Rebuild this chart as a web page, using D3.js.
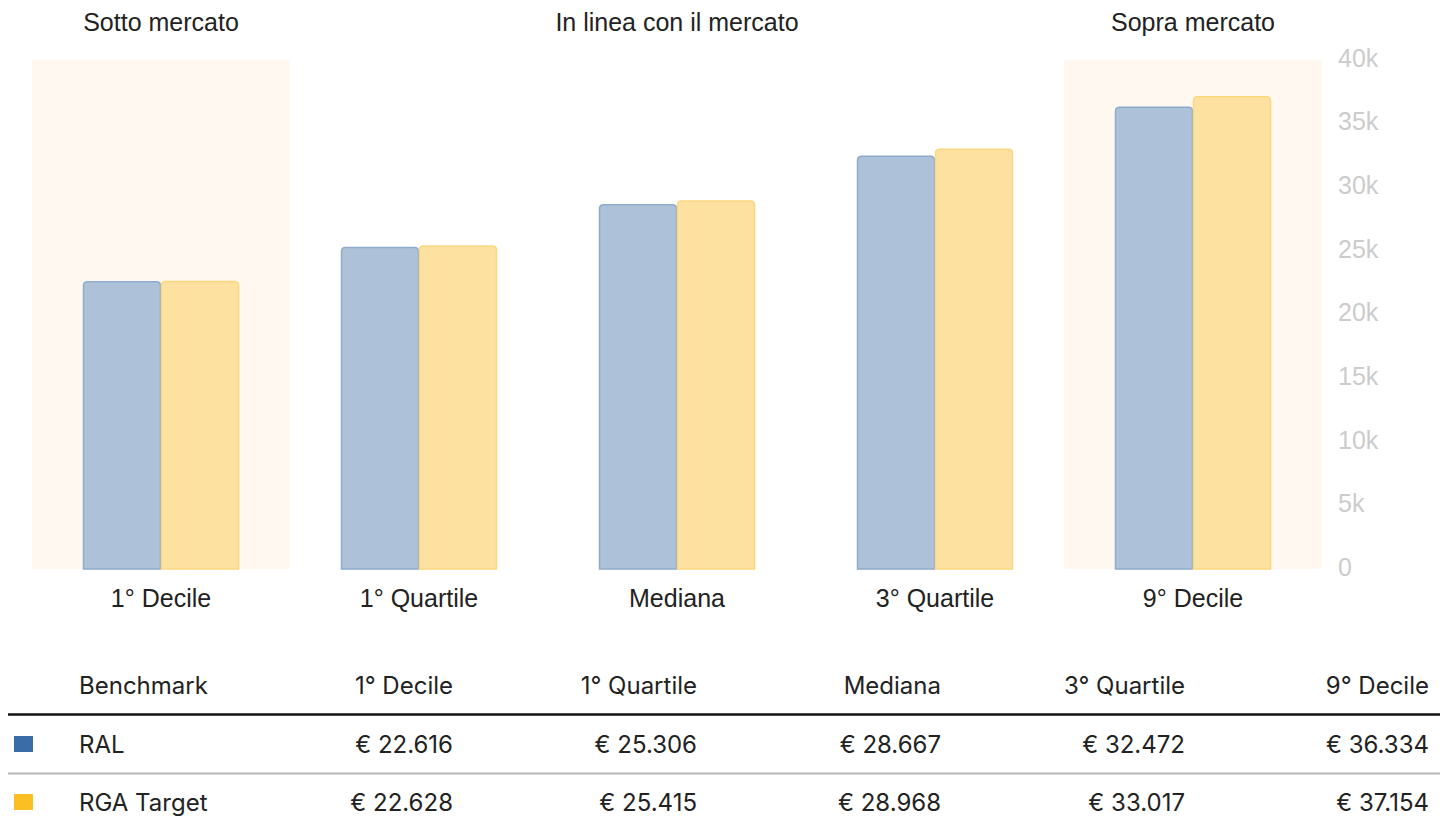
<!DOCTYPE html>
<html><head><meta charset="utf-8">
<script src="https://cdn.jsdelivr.net/npm/d3@7/dist/d3.min.js"></script>
<style>
html,body{margin:0;padding:0;background:#fff;}
svg{display:block;}
</style></head>
<body>
<svg id="chart" width="1448" height="819"></svg>
<script>
const categories = ["1° Decile", "1° Quartile", "Mediana", "3° Quartile", "9° Decile"];
const seriesNames = ["RAL", "RGA Target"];
const ralValues = [22616, 25306, 28667, 32472, 36334];
const rgaValues = [22628, 25415, 28968, 33017, 37154];
const yTicks = [0, 5000, 10000, 15000, 20000, 25000, 30000, 35000, 40000];
const zoneLabels = [
  {label: "Sotto mercato", cat: "1° Decile", shaded: true},
  {label: "In linea con il mercato", cat: "Mediana", shaded: false},
  {label: "Sopra mercato", cat: "9° Decile", shaded: true}
];
const shadedCats = ["1° Decile", "9° Decile"];
const tableHeader = ["Benchmark", "1° Decile", "1° Quartile", "Mediana", "3° Quartile", "9° Decile"];

const fmtEuro = v => "€ " + d3.format(",")(v).replace(/,/g, ".");

const svg = d3.select("#chart");
const plot = {left: 32, right: 1322, top: 60, bottom: 569};

const x = d3.scaleBand().domain(categories).range([plot.left, plot.right]).paddingInner(0).paddingOuter(0);
const xInner = d3.scaleBand().domain(seriesNames).range([51, x.bandwidth() - 51]);
const y = d3.scaleLinear().domain([0, 40000]).range([plot.bottom, plot.top]);

const barFill = {"RAL": "#adc2d9", "RGA Target": "#fde1a0"};
const barStroke = {"RAL": "#8fabcb", "RGA Target": "#fbd77f"};
const legendColor = {"RAL": "#3a6ca8", "RGA Target": "#fbbf24"};
const chartFont = "'Liberation Sans', Arial, sans-serif";

// shaded zones
svg.selectAll("rect.zone").data(shadedCats).join("rect")
  .attr("class", "zone")
  .attr("x", d => x(d)).attr("y", y(40000))
  .attr("width", x.bandwidth()).attr("height", y(0) - y(40000))
  .attr("fill", "#fff8f0");

// zone labels
svg.selectAll("text.zoneLabel").data(zoneLabels).join("text")
  .attr("class", "zoneLabel")
  .attr("x", d => x(d.cat) + x.bandwidth() / 2)
  .attr("y", 31)
  .attr("text-anchor", "middle")
  .attr("font-family", chartFont)
  .attr("font-size", 25)
  .attr("fill", "#222")
  .text(d => d.label);

// bars
const data = [];
categories.forEach((c, i) => {
  data.push({cat: c, s: "RAL", v: ralValues[i]});
  data.push({cat: c, s: "RGA Target", v: rgaValues[i]});
});
function topRounded(x0, y0, w, h, r) {
  return `M${x0},${y0 + h}V${y0 + r}Q${x0},${y0} ${x0 + r},${y0}H${x0 + w - r}Q${x0 + w},${y0} ${x0 + w},${y0 + r}V${y0 + h}Z`;
}
svg.selectAll("path.bar").data(data).join("path")
  .attr("class", "bar")
  .attr("d", d => {
    const bx = x(d.cat) + xInner(d.s) + 0.5;
    const by = y(d.v) + 0.5;
    return topRounded(bx, by, xInner.bandwidth() - 1, y(0) - y(d.v) - 0.5, 4);
  })
  .attr("fill", d => barFill[d.s])
  .attr("stroke", d => barStroke[d.s])
  .attr("stroke-width", 1.5);

// y axis labels (right)
svg.selectAll("text.ytick").data(yTicks).join("text")
  .attr("class", "ytick")
  .attr("x", 1338)
  .attr("y", d => y(d) - 2)
  .attr("dy", "0.35em")
  .attr("font-family", chartFont)
  .attr("font-size", 25)
  .attr("fill", "#cccccc")
  .text(d => d === 0 ? "0" : (d / 1000) + "k");

// x axis labels
svg.selectAll("text.xtick").data(categories).join("text")
  .attr("class", "xtick")
  .attr("x", d => x(d) + x.bandwidth() / 2)
  .attr("y", 607)
  .attr("text-anchor", "middle")
  .attr("font-family", chartFont)
  .attr("font-size", 25)
  .attr("fill", "#222")
  .text(d => d);

// table
const colRight = d3.scaleLinear().domain([1, 5]).range([453, 1429]);
const tableFont = "Inter, 'Noto Sans', sans-serif";
const headerY = 694, rowY = [753, 811];

const tbl = svg.append("g");
tbl.selectAll("text.th").data(tableHeader).join("text")
  .attr("class", "th")
  .attr("x", (d, i) => i === 0 ? 79 : colRight(i))
  .attr("y", headerY)
  .attr("text-anchor", (d, i) => i === 0 ? "start" : "end")
  .attr("font-family", tableFont)
  .attr("font-size", 24)
  .attr("fill", "#222")
  .text(d => d);

tbl.append("line").attr("x1", 8).attr("x2", 1440).attr("y1", 714.5).attr("y2", 714.5)
  .attr("stroke", "#111").attr("stroke-width", 2.5);
tbl.append("line").attr("x1", 8).attr("x2", 1440).attr("y1", 773.5).attr("y2", 773.5)
  .attr("stroke", "#b5b5b5").attr("stroke-width", 2);

const rows = [
  {name: "RAL", vals: ralValues},
  {name: "RGA Target", vals: rgaValues}
];
rows.forEach((r, ri) => {
  tbl.append("rect").attr("x", 14).attr("y", rowY[ri] - 17).attr("width", 19).attr("height", 16)
    .attr("fill", legendColor[r.name]);
  tbl.append("text").attr("x", 79).attr("y", rowY[ri])
    .attr("font-family", tableFont).attr("font-size", 24).attr("fill", "#222")
    .text(r.name);
  tbl.selectAll(null).data(r.vals).join("text")
    .attr("x", (d, i) => colRight(i + 1))
    .attr("y", rowY[ri])
    .attr("text-anchor", "end")
    .attr("font-family", tableFont).attr("font-size", 24).attr("fill", "#222")
    .text(d => fmtEuro(d));
});
</script>
</body></html>
